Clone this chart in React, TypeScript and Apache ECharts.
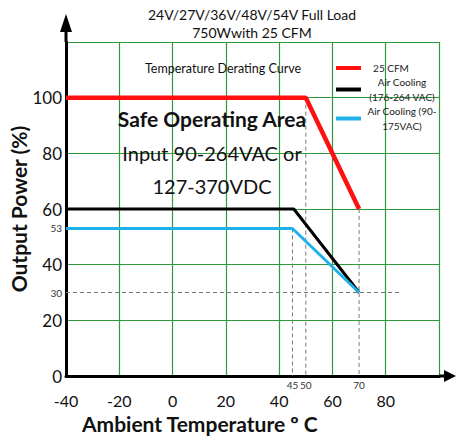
import React, { useEffect, useRef } from "react";
import * as echarts from "echarts";

const FONT = "Lato";

const xTicks = [-40, -20, 0, 20, 40, 60, 80, 100];
const yTicks = [0, 20, 40, 60, 80, 100, 120];
const xMarkLabels = [45, 50, 70];
const yMarkLabels = [53, 30];

const seriesNames = ["25 CFM", "Air Cooling (176-264 VAC)", "Air Cooling (90-175VAC)"];
const cfm25 = [[-40, 100], [50, 100], [70, 60]];
const air176 = [[-40, 60], [45.5, 60], [70, 30]];
const air90 = [[-40, 53], [45, 53], [70, 30]];
const guideLines: any[] = [
  [45, 53], [45, 0], "-",
  [50, 100], [50, 0], "-",
  [70, 60], [70, 0], "-",
  [-40, 30], [85, 30],
];

const legendLabels: Record<string, string> = {
  "25 CFM": "{a|25 CFM}",
  "Air Cooling (176-264 VAC)": "{c|Air Cooling}\n{c|(176-264 VAC)}",
  "Air Cooling (90-175VAC)": "{c|Air Cooling (90-}\n{c|175VAC)}",
};

const GREEN = "#2f9a3c";

export default function App() {
  const ref = useRef<HTMLDivElement>(null);
  useEffect(() => {
    if (!ref.current) return;
    const chart = echarts.init(ref.current, undefined, { renderer: "svg" });
    const option: any = {
      animation: false,
      backgroundColor: "#ffffff",
      textStyle: { fontFamily: FONT },
      grid: { left: 66, right: 17, top: 42, bottom: 60, containLabel: false, outerBoundsMode: "none" },
      legend: {
        orient: "vertical",
        left: 331,
        top: 58,
        itemGap: 4,
        itemWidth: 25,
        itemHeight: 4,
        icon: "rect",
        data: seriesNames,
        formatter: (n: string) => legendLabels[n] || n,
        textStyle: {
          fontFamily: FONT,
          fontSize: 10,
          color: "#222",
          rich: {
            a: { width: 50, align: "center", fontSize: 10, lineHeight: 14, fontFamily: FONT, color: "#222" },
            c: { width: 72, align: "center", fontSize: 10, lineHeight: 15, fontFamily: FONT, color: "#222" },
          },
        },
      },
      xAxis: [
        {
          type: "value",
          min: xTicks[0],
          max: xTicks[xTicks.length - 1],
          interval: 20,
          axisLine: { show: true, onZero: false, lineStyle: { color: "#000", width: 3 } },
          axisTick: { show: false },
          splitLine: { show: true, lineStyle: { color: GREEN, width: 1.2 } },
          axisLabel: {
            margin: 16,
            fontSize: 16,
            color: "#111",
            fontFamily: FONT,
            formatter: (v: number) => (v === 100 ? "" : String(v)),
          },
        },
        {
          type: "value",
          min: xTicks[0],
          max: xTicks[xTicks.length - 1],
          position: "bottom",
          axisLine: { show: false, onZero: false },
          axisTick: { show: false },
          splitLine: { show: false },
          axisLabel: {
            customValues: xMarkLabels,
            margin: 4,
            fontSize: 10,
            color: "#333",
            fontFamily: FONT,
          },
        },
      ],
      yAxis: [
        {
          type: "value",
          min: yTicks[0],
          max: yTicks[yTicks.length - 1],
          interval: 20,
          name: "Output Power (%)",
          nameLocation: "middle",
          nameGap: 37,
          nameMoveOverlap: false,
          nameTextStyle: { fontSize: 21, fontWeight: "bold", color: "#111", fontFamily: FONT },
          axisLine: { show: true, onZero: false, lineStyle: { color: "#000", width: 3 } },
          axisTick: { show: false },
          splitLine: { show: true, lineStyle: { color: GREEN, width: 1.2 } },
          axisLabel: {
            margin: 4,
            fontSize: 17,
            color: "#111",
            fontFamily: FONT,
            formatter: (v: number) => (v === 120 ? "" : String(v)),
          },
        },
        {
          type: "value",
          min: yTicks[0],
          max: yTicks[yTicks.length - 1],
          position: "left",
          axisLine: { show: false, onZero: false },
          axisTick: { show: false },
          splitLine: { show: false },
          axisLabel: {
            customValues: yMarkLabels,
            margin: 4,
            fontSize: 10,
            color: "#333",
            fontFamily: FONT,
          },
        },
      ],
      series: [
        {
          name: "guides",
          type: "line",
          data: guideLines,
          showSymbol: false,
          symbol: "none",
          z: 1,
          lineStyle: { color: "#777", width: 1, type: [4, 3] },
          silent: true,
        },
        {
          name: seriesNames[0],
          type: "line",
          data: cfm25,
          symbol: "none",
          z: 5,
          color: "#ff1010",
          lineStyle: { color: "#ff1010", width: 4.5 },
        },
        {
          name: seriesNames[1],
          type: "line",
          data: air176,
          symbol: "none",
          z: 4,
          color: "#000000",
          lineStyle: { color: "#000000", width: 3 },
        },
        {
          name: seriesNames[2],
          type: "line",
          data: air90,
          symbol: "none",
          z: 4,
          color: "#1eb1ea",
          lineStyle: { color: "#1eb1ea", width: 3 },
        },
      ],
    };
    chart.setOption(option);

    const o = chart.convertToPixel({ gridIndex: 0 }, [xTicks[0], yTicks[0]]) as number[];
    const t = chart.convertToPixel({ gridIndex: 0 }, [xTicks[0], yTicks[yTicks.length - 1]]) as number[];
    const r = chart.convertToPixel({ gridIndex: 0 }, [xTicks[xTicks.length - 1], yTicks[0]]) as number[];

    const txt = (x: number, y: number, text: string, size: number, weight: string, align: string) => ({
      type: "text",
      x,
      y,
      style: {
        text,
        fontSize: size,
        fontWeight: weight,
        fontFamily: FONT,
        fill: "#111",
        align,
        verticalAlign: "middle",
      },
      z: 10,
    });

    chart.setOption({
      graphic: [
        { type: "line", shape: { x1: t[0], y1: t[1], x2: t[0], y2: 28 }, style: { stroke: "#000", lineWidth: 3 }, z: 20 },
        { type: "polygon", shape: { points: [[t[0] - 6, 32], [t[0] + 6, 32], [t[0], 14]] }, style: { fill: "#000" }, z: 20 },
        { type: "line", shape: { x1: r[0], y1: r[1], x2: 448, y2: r[1] }, style: { stroke: "#000", lineWidth: 3 }, z: 20 },
        { type: "polygon", shape: { points: [[444, o[1] - 6], [444, o[1] + 6], [456, o[1]]] }, style: { fill: "#000" }, z: 20 },
        txt(252, 14, "24V/27V/36V/48V/54V Full Load", 14, "normal", "center"),
        txt(252, 32, "750Wwith 25 CFM", 14, "normal", "center"),
        txt(145, 68, "Temperature Derating Curve", 12.5, "normal", "left"),
        txt(212, 118, "Safe Operating Area", 21, "bold", "center"),
        txt(212, 153, "Input 90-264VAC or", 20, "normal", "center"),
        txt(212, 186, "127-370VDC", 20, "normal", "center"),
        txt(82, 423, "Ambient Temperature º C", 21, "bold", "left"),
      ],
    });

    return () => chart.dispose();
  }, []);
  return (
    <div
      ref={ref}
      style={{ position: "fixed", left: 0, top: 0, width: 456, height: 436, background: "#fff" }}
    />
  );
}
